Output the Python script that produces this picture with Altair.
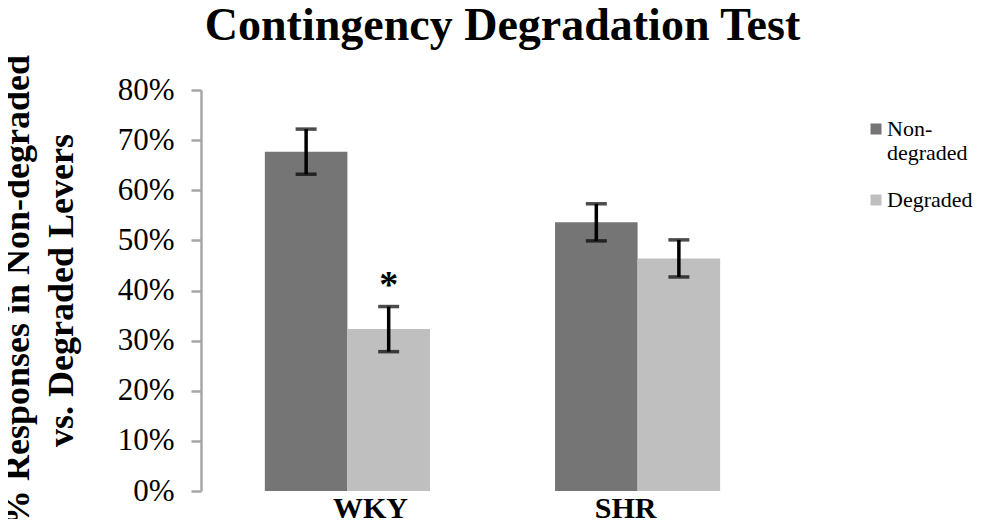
import altair as alt
import pandas as pd

groups = ["WKY", "WKY", "SHR", "SHR"]
conditions = ["Non-degraded", "Degraded", "Non-degraded", "Degraded"]
values = [0.677, 0.323, 0.536, 0.464]
errors = [0.045, 0.045, 0.037, 0.037]
marks = ["", "*", "", ""]

df = pd.DataFrame({"group": groups, "cond": conditions, "value": values,
                   "err": errors, "sig": marks})

SERIF = "Liberation Serif"
cond_order = ["Non-degraded", "Degraded"]
colors = ["#757575", "#bfbfbf"]

x = alt.X("group:N", sort=["WKY", "SHR"],
          scale=alt.Scale(paddingInner=0.431, paddingOuter=0.22),
          axis=alt.Axis(title=None, labelAngle=0, domain=False, ticks=False, tickSize=0,
                        labelFont=SERIF, labelFontSize=30, labelFontWeight="bold",
                        labelColor="black", labelBaseline="alphabetic", labelPadding=26,
                        labelOffset={"condition": {"test": "datum.value == 'WKY'", "value": 23},
                                     "value": -12}))
xo = alt.XOffset("cond:N", sort=cond_order, scale=alt.Scale(paddingInner=0, paddingOuter=0))

yscale = alt.Scale(domain=[0, 0.8], nice=False)

bars = alt.Chart(df).mark_bar().encode(
    x=x,
    xOffset=xo,
    y=alt.Y("value:Q", scale=yscale,
            axis=alt.Axis(title=["% Responses in Non-degraded", "vs. Degraded Levers"],
                          values=[0, 0.1, 0.2, 0.3, 0.4, 0.5, 0.6, 0.7, 0.8],
                          format=".0%", grid=False,
                          domainColor="#a6a6a6", domainWidth=2.5,
                          tickColor="#a6a6a6", tickWidth=2.5, tickSize=10,
                          labelFont=SERIF, labelFontSize=31, labelColor="black",
                          labelPadding=17,
                          titleFont=SERIF, titleFontSize=36, titleFontWeight="bold",
                          titleColor="black", titleLineHeight=44, titleAngle=270,
                          titleBaseline="alphabetic", titleAlign="center",
                          titleX=-173, titleY=200)),
    color=alt.Color("cond:N", sort=cond_order,
                    scale=alt.Scale(domain=cond_order, range=colors),
                    legend=alt.Legend(title=None, orient="none", legendX=664, legendY=28,
                                      symbolType="square", symbolSize=121,
                                      symbolStrokeWidth=0, labelFont=SERIF,
                                      labelFontSize=22, labelColor="black",
                                      labelLimit=300, labelOffset=0, rowPadding=25,
                                      labelExpr="datum.label == 'Non-degraded' ? ['Non-', 'degraded'] : datum.label")),
)

base = alt.Chart(df).transform_calculate(
    lo="datum.value - datum.err", hi="datum.value + datum.err"
)

rules = base.mark_rule(color="black", strokeWidth=3.5).encode(
    x=x, xOffset=xo, y=alt.Y("lo:Q", scale=yscale), y2="hi:Q")
cap_hi = base.mark_tick(color="black", orient="horizontal", size=21, thickness=3.5).encode(
    x=x, xOffset=xo, y=alt.Y("hi:Q", scale=yscale))
cap_lo = base.mark_tick(color="black", orient="horizontal", size=21, thickness=3.5).encode(
    x=x, xOffset=xo, y=alt.Y("lo:Q", scale=yscale))
star = base.transform_filter("datum.sig != ''").mark_text(
    font=SERIF, fontSize=38, fontWeight="bold", color="black",
    baseline="alphabetic", dy=-10).encode(
    x=x, xOffset=xo, y=alt.Y("hi:Q", scale=yscale), text="sig:N")

chart = alt.layer(bars, rules, cap_hi, cap_lo, star).properties(
    width=583, height=401,
    title=alt.TitleParams("Contingency Degradation Test"),
    autosize=alt.AutoSizeParams(type="none"),
    padding={"left": 193, "top": 82, "right": 190, "bottom": 28},
).configure(background="white", font=SERIF).configure_view(stroke=None).configure_title(
    font=SERIF, fontSize=46, fontWeight="bold", color="black",
    baseline="alphabetic", offset=4, dx=10)

chart.save("out.html", embed_options={"renderer": "svg", "actions": False})
